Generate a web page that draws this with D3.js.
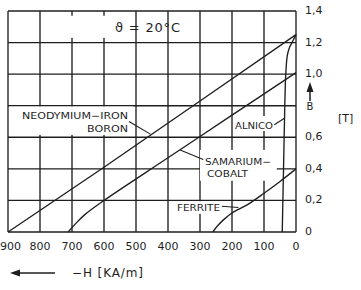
<!DOCTYPE html>
<html><head><meta charset="utf-8">
<script src="https://cdn.jsdelivr.net/npm/d3@7"></script>
<style>
html,body{margin:0;padding:0;background:#fff;}
svg{display:block;font-family:"DejaVu Sans",sans-serif;}
</style></head>
<body>
<svg id="c" width="361" height="290"></svg>
<script>
// ---- data ----
const hTicks = [900, 800, 700, 600, 500, 400, 300, 200, 100, 0];
const hTickLabels = ["900","800","700","600","500","400","300","200","100","0"];
const bTicks = [0, 0.2, 0.4, 0.6, 0.8, 1.0, 1.2, 1.4];
const bTickLabels = ["0","0,2","0,4","0,6","","1,0","1,2","1,4"];

const ndfebH = [900, 600, 300, 0];
const ndfebB = [0, 0.41, 0.83, 1.25];
const smcoH = [712, 690, 660, 600, 400, 200, 0];
const smcoB = [0, 0.05, 0.11, 0.2, 0.47, 0.74, 1.01];
const alnicoH = [0, 10, 20, 27, 32, 35, 38, 41, 43];
const alnicoB = [1.25, 1.21, 1.17, 1.12, 1.0, 0.8, 0.5, 0.2, 0];
const ferriteH = [260, 245, 225, 200, 150, 100, 50, 0];
const ferriteB = [0, 0.04, 0.08, 0.12, 0.175, 0.245, 0.32, 0.4];

const svg = d3.select("#c");
const x = d3.scaleLinear().domain([900, 0]).range([8, 296]);
const y = d3.scaleLinear().domain([0, 1.4]).range([232, 11]);
const ink = "#1e1e1e";

// grid
const g = svg.append("g");
g.selectAll("line.v").data(hTicks).join("line")
  .attr("x1", d => x(d)).attr("x2", d => x(d)).attr("y1", y(0)).attr("y2", y(1.4))
  .attr("stroke", ink).attr("stroke-width", 1.35);
g.selectAll("line.h").data(bTicks).join("line")
  .attr("y1", d => y(d)).attr("y2", d => y(d)).attr("x1", x(900)).attr("x2", x(0))
  .attr("stroke", ink).attr("stroke-width", 1.35);

// white label boxes (interrupt the grid)
const boxes = [
  [780, 1.37, 580, 1.23],
  [897, 0.795, 510, 0.615],
  [190, 0.735, 62, 0.64],
  [300, 0.52, 60, 0.325],
  [375, 0.195, 230, 0.115]
];
svg.selectAll("rect.box").data(boxes).join("rect")
  .attr("x", d => x(d[0])).attr("y", d => y(d[1]))
  .attr("width", d => x(d[2]) - x(d[0])).attr("height", d => y(d[3]) - y(d[1]))
  .attr("fill", "#fff");

// curves
function series(hs, bs) { return hs.map((h, i) => [h, bs[i]]); }
const line = d3.line().x(d => x(d[0])).y(d => y(d[1]));
const smooth = d3.line().x(d => x(d[0])).y(d => y(d[1])).curve(d3.curveCatmullRom.alpha(0.5));
[[series(ndfebH, ndfebB), line], [series(smcoH, smcoB), smooth],
 [series(alnicoH, alnicoB), smooth], [series(ferriteH, ferriteB), smooth]]
 .forEach(([d, gen]) => {
   svg.append("path").attr("d", gen(d)).attr("fill", "none")
     .attr("stroke", ink).attr("stroke-width", 1.35);
 });

// leaders
const leaders = [
  [[522, 0.70], [455, 0.62]],
  [[68, 0.68], [36, 0.72]],
  [[290, 0.46], [362, 0.52]],
  [[232, 0.163], [180, 0.155]]
];
leaders.forEach(p => {
  svg.append("line").attr("x1", x(p[0][0])).attr("y1", y(p[0][1]))
    .attr("x2", x(p[1][0])).attr("y2", y(p[1][1]))
    .attr("stroke", ink).attr("stroke-width", 1.1);
});

// tick labels
svg.selectAll("text.xt").data(hTicks).join("text")
  .attr("x", d => d === 900 ? 0 : x(d)).attr("y", 250)
  .attr("text-anchor", d => d === 900 ? "start" : "middle")
  .attr("font-size", 11).attr("fill", ink)
  .text((d, i) => hTickLabels[i]);
svg.selectAll("text.yt").data(bTicks).join("text")
  .attr("x", 305).attr("y", d => y(d) + 3).attr("font-size", 11).attr("fill", ink)
  .text((d, i) => bTickLabels[i]);

// curve labels
const labels = [
  ["NEODYMIUM−IRON", 22, 118.5, 106],
  ["BORON", 87, 131.5, 41],
  ["ALNICO", 235, 128.5, 38],
  ["SAMARIUM−", 205, 164.5, 66],
  ["COBALT", 207, 177, 41],
  ["FERRITE", 177, 210.5, 43]
];
labels.forEach(l => {
  svg.append("text").attr("x", l[1]).attr("y", l[2]).attr("font-size", 9.5)
    .attr("fill", ink).attr("textLength", l[3]).attr("lengthAdjust", "spacingAndGlyphs").text(l[0]);
});

// theta label
svg.append("text").attr("x", 115).attr("y", 32).attr("font-size", 13).attr("fill", ink)
  .attr("textLength", 65).attr("lengthAdjust", "spacing")
  .text("ϑ = 20°C");

// B axis arrow + unit
svg.append("line").attr("x1", 310).attr("x2", 310).attr("y1", 90).attr("y2", 101)
  .attr("stroke", ink).attr("stroke-width", 1.5);
svg.append("path").attr("d", "M306.5,92 L310,82 L313.5,92 Z").attr("fill", ink);
svg.append("text").attr("x", 310).attr("y", 110).attr("text-anchor", "middle")
  .attr("font-size", 10).attr("fill", ink).text("B");
svg.append("text").attr("x", 338).attr("y", 122).attr("font-size", 11).attr("fill", ink).text("[T]");

// H axis arrow + title
svg.append("line").attr("x1", 18).attr("x2", 55).attr("y1", 273).attr("y2", 273)
  .attr("stroke", ink).attr("stroke-width", 1.5);
svg.append("path").attr("d", "M10,273 L20,269.5 L20,276.5 Z").attr("fill", ink);
svg.append("text").attr("x", 72).attr("y", 277).attr("font-size", 12).attr("fill", ink)
  .attr("textLength", 71).attr("lengthAdjust", "spacing")
  .text("−H  [KA/m]");
</script>
</body></html>
